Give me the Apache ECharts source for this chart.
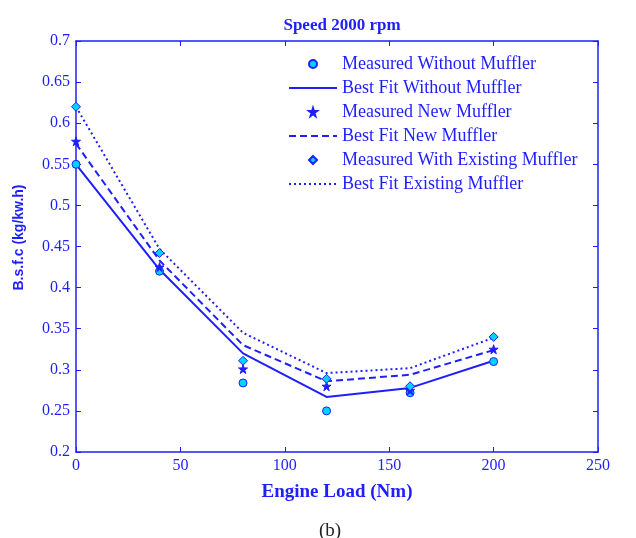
<!DOCTYPE html>
<html>
<head>
<meta charset="utf-8">
<style>
  html, body { margin: 0; padding: 0; background: #ffffff; }
  #chart { width: 636px; height: 538px; }
</style>
<script src="https://cdn.jsdelivr.net/npm/echarts@6/dist/echarts.min.js"></script>
</head>
<body>
<div id="chart"></div>
<script>
// Engine load (Nm) at which B.s.f.c was measured
const engineLoad = [0, 40, 80, 120, 160, 200];

// B.s.f.c (kg/kW.h) per configuration
const measuredWithout  = [0.55, 0.42, 0.284, 0.25, 0.272, 0.31];
const bestFitWithout   = [0.55, 0.422, 0.32, 0.267, 0.278, 0.311];
const measuredNew      = [0.578, 0.425, 0.301, 0.28, 0.275, 0.325];
const bestFitNew       = [0.575, 0.433, 0.33, 0.286, 0.294, 0.324];
const measuredExisting = [0.62, 0.442, 0.311, 0.289, 0.28, 0.34];
const bestFitExisting  = [0.62, 0.447, 0.345, 0.296, 0.302, 0.339];

const seriesNames = [
  'Measured Without Muffler',
  'Best Fit Without Muffler',
  'Measured New Muffler',
  'Best Fit New Muffler',
  'Measured With Existing Muffler',
  'Best Fit Existing Muffler'
];

const BLUE = '#1e1eff';
const CYAN = '#00d2ff';
const SERIF = '"Liberation Serif", "DejaVu Serif", serif';
const STAR = 'path://M50,0 L61,35 L98,35 L68,57 L79,91 L50,70 L21,91 L32,57 L2,35 L39,35 Z';

const pairs = ys => engineLoad.map((x, i) => [x, ys[i]]);

function measured(name, ys, symbol, fill, size) {
  return {
    name, type: 'line', data: pairs(ys),
    symbol, symbolSize: size, showSymbol: true,
    lineStyle: { width: 0, opacity: 0 },
    itemStyle: { color: fill, borderColor: BLUE, borderWidth: 1 },
    z: 5
  };
}
function fitted(name, ys, type) {
  return {
    name, type: 'line', data: pairs(ys),
    symbol: 'none',
    lineStyle: { color: BLUE, width: 2, type },
    // no marker on fitted curves, so the legend shows only the line
    itemStyle: { color: 'rgba(0,0,0,0)', borderWidth: 0 },
    z: 3
  };
}

const axisCommon = {
  axisLine: { show: true, onZero: false, lineStyle: { color: BLUE, width: 1.5 } },
  axisTick: { show: true, inside: true, length: 5, lineStyle: { color: BLUE, width: 1 } },
  splitLine: { show: false }
};

const chart = echarts.init(document.getElementById('chart'), null, { renderer: 'canvas' });
chart.setOption({
  animation: false,
  backgroundColor: '#ffffff',
  title: [
    { text: 'Speed 2000 rpm', left: 337, top: 12, textAlign: 'center',
      textStyle: { fontFamily: SERIF, fontWeight: 'bold', fontSize: 17, color: BLUE } },
    { text: '(b)', left: 325, top: 517, textAlign: 'center',
      textStyle: { fontFamily: SERIF, fontWeight: 'normal', fontSize: 19, color: '#222222' } }
  ],
  grid: { left: 76, right: 38, top: 41, bottom: 86 },
  legend: {
    orient: 'vertical', left: 283, top: 50,
    itemWidth: 48, itemHeight: 10, itemGap: 6,
    data: seriesNames,
    textStyle: { fontFamily: SERIF, fontSize: 18, color: BLUE }
  },
  xAxis: [
    Object.assign({
      type: 'value', min: 0, max: 250, interval: 50, position: 'bottom',
      name: 'Engine Load (Nm)', nameLocation: 'middle', nameGap: 31,
      nameTextStyle: { fontFamily: SERIF, fontWeight: 'bold', fontSize: 19, color: BLUE },
      axisLabel: { fontFamily: SERIF, fontSize: 16, color: BLUE, margin: 6 }
    }, axisCommon),
    Object.assign({
      type: 'value', min: 0, max: 250, interval: 50, position: 'top',
      axisLabel: { show: false }
    }, axisCommon)
  ],
  yAxis: [
    Object.assign({
      type: 'value', min: 0.2, max: 0.7, interval: 0.05, position: 'left',
      name: 'B.s.f.c (kg/kw.h)', nameLocation: 'middle', nameGap: 50,
      nameTextStyle: { fontFamily: '"Liberation Sans", Arial, sans-serif', fontWeight: 'bold', fontSize: 14, color: BLUE,
                       padding: [0, 0, 0, 18] },
      axisLabel: { fontFamily: SERIF, fontSize: 16, color: BLUE, margin: 6 }
    }, axisCommon),
    Object.assign({
      type: 'value', min: 0.2, max: 0.7, interval: 0.05, position: 'right',
      axisLabel: { show: false }
    }, axisCommon)
  ],
  series: [
    measured(seriesNames[0], measuredWithout, 'circle', CYAN, 8),
    fitted(seriesNames[1], bestFitWithout, 'solid'),
    measured(seriesNames[2], measuredNew, STAR, BLUE, 9),
    fitted(seriesNames[3], bestFitNew, [7, 4]),
    measured(seriesNames[4], measuredExisting, 'diamond', CYAN, 9),
    fitted(seriesNames[5], bestFitExisting, [2, 3])
  ]
});
</script>
</body>
</html>
